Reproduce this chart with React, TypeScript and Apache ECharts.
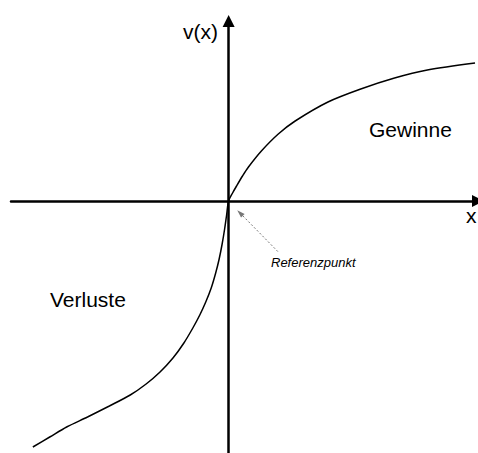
import React, { useEffect, useRef } from "react";
import * as echarts from "echarts";

// Value function (prospect theory)
const gainX = [0, 0.4, 0.8, 1.4, 2, 3.3, 5, 6.7, 10, 13.3, 16.7, 20, 24.8];
const gainY = [0, 0.8, 1.5, 2.5, 3.4, 5.0, 6.7, 8.0, 9.9, 11.2, 12.3, 13.1, 13.8];
const lossX = [-19.7, -18, -16.3, -14.2, -12, -9.9, -8.3, -6.9, -5.6, -4.5, -3.6, -2.9, -2.3, -1.75, -1.3, -0.95, -0.65, -0.4, -0.2];
const lossY = [-24.6, -23.6, -22.6, -21.6, -20.5, -19.4, -18.3, -17.1, -15.7, -14.2, -12.7, -11.4, -10.1, -8.7, -7.2, -5.8, -4.3, -2.8, -1.4];
const refPoint = [0, 0];
const refArrowTip = [1.15, -1.2];
const refArrowTail = [5, -5.1];
const xRange = [-21.9, 25.1];
const yRange = [-25.2, 18];
const yName = "v(x)";
const xName = "x";
const gainLabel = "Gewinne";
const lossLabel = "Verluste";
const refLabel = "Referenzpunkt";

const FONT = "'Liberation Sans', Arial, Helvetica, sans-serif";

export default function App() {
  const ref = useRef<HTMLDivElement>(null);
  useEffect(() => {
    if (!ref.current) return;
    const chart = echarts.init(ref.current, undefined, { renderer: "svg" });
    const curve: number[][] = [];
    lossX.forEach((x, i) => curve.push([x, lossY[i]]));
    curve.push(refPoint);
    gainX.forEach((x, i) => {
      if (i > 0) curve.push([x, gainY[i]]);
    });
    const axisLine = {
      show: true,
      onZero: true,
      symbol: ["none", "triangle"],
      symbolSize: [12, 12],
      lineStyle: { color: "#000", width: 2.5 },
    };
    chart.setOption({
      animation: false,
      backgroundColor: "#fff",
      grid: { left: 11, right: -3, top: 21, bottom: 0, containLabel: false },
      xAxis: {
        type: "value",
        min: xRange[0],
        max: xRange[1],
        axisLine,
        axisTick: { show: false },
        axisLabel: { show: false },
        splitLine: { show: false },
      },
      yAxis: {
        type: "value",
        min: yRange[0],
        max: yRange[1],
        axisLine,
        axisTick: { show: false },
        axisLabel: { show: false },
        splitLine: { show: false },
      },
      series: [
        {
          type: "line",
          data: curve,
          smooth: 0.3,
          showSymbol: false,
          symbol: "none",
          lineStyle: { color: "#000", width: 1.5 },
          z: 5,
          markLine: {
            silent: true,
            symbol: ["triangle", "none"],
            symbolSize: [5, 8],
            label: { show: false },
            lineStyle: { color: "#777", width: 1, type: [2, 2] },
            data: [[{ coord: refArrowTip }, { coord: refArrowTail }]],
          },
        },
      ],
      graphic: [
        {
          type: "text",
          x: 183,
          y: 31.5,
          style: { text: yName, font: `21px ${FONT}`, fill: "#000", align: "left", verticalAlign: "middle" },
        },
        {
          type: "text",
          x: 466,
          y: 215.5,
          style: { text: xName, font: `21px ${FONT}`, fill: "#000", align: "left", verticalAlign: "middle" },
        },
        {
          type: "text",
          x: 369,
          y: 129.5,
          style: { text: gainLabel, font: `21px ${FONT}`, fill: "#000", align: "left", verticalAlign: "middle" },
        },
        {
          type: "text",
          x: 50,
          y: 299.5,
          style: { text: lossLabel, font: `21px ${FONT}`, fill: "#000", align: "left", verticalAlign: "middle" },
        },
        {
          type: "text",
          x: 271,
          y: 262,
          style: { text: refLabel, font: `italic 13px ${FONT}`, fill: "#000", align: "left", verticalAlign: "middle" },
        },
      ],
    });
    return () => chart.dispose();
  }, []);
  return (
    <div
      ref={ref}
      style={{ position: "absolute", left: 0, top: 0, width: 478, height: 453 }}
    />
  );
}
